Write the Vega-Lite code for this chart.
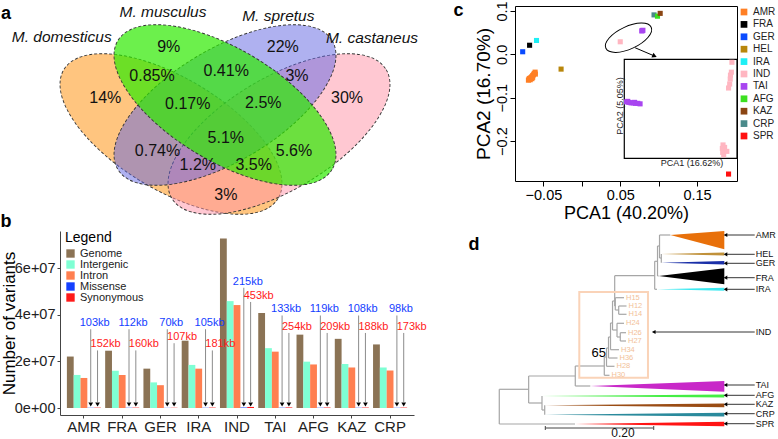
{
"$schema": "https://vega.github.io/schema/vega-lite/v6.json",
"padding": 0,
"background": "white",
"config": {"font": "Liberation Sans", "view": {"stroke": null}},
"datasets": {
"venn_sets": [
{"set": "M. domesticus", "vx": 1.69, "vy": 0.82},
{"set": "M. castaneus", "vx": 2.77, "vy": 0.82},
{"set": "M. spretus", "vx": 2.23, "vy": 1.11},
{"set": "M. musculus", "vx": 2.23, "vy": 1.11}
],
"venn_regions": [
{"label": "14%", "vx": 1.033, "vy": 1.183},
{"label": "9%", "vx": 1.667, "vy": 1.693},
{"label": "22%", "vx": 2.808, "vy": 1.693},
{"label": "30%", "vx": 3.45, "vy": 1.183},
{"label": "0.85%", "vx": 1.50, "vy": 1.40},
{"label": "0.41%", "vx": 2.242, "vy": 1.45},
{"label": "3%", "vx": 2.95, "vy": 1.40},
{"label": "0.17%", "vx": 1.858, "vy": 1.123},
{"label": "2.5%", "vx": 2.613, "vy": 1.133},
{"label": "5.1%", "vx": 2.238, "vy": 0.783},
{"label": "0.74%", "vx": 1.555, "vy": 0.65},
{"label": "5.6%", "vx": 2.92, "vy": 0.65},
{"label": "1.2%", "vx": 1.958, "vy": 0.51},
{"label": "3.5%", "vx": 2.517, "vy": 0.51},
{"label": "3%", "vx": 2.238, "vy": 0.21}
],
"venn_names": [
{"name": "M. domesticus", "vx": 0.597, "vy": 1.793},
{"name": "M. musculus", "vx": 1.61, "vy": 2.037},
{"name": "M. spretus", "vx": 2.763, "vy": 2.003},
{"name": "M. castaneus", "vx": 3.70, "vy": 1.783}
],
"letters_ab": [
{"letter": "a", "vx": 0.04, "vy": 2.02},
{"letter": "b", "vx": 0.04, "vy": -0.06}
],
"bars": [
{"pop": "AMR", "type": "Genome", "value": 22100000}, {"pop": "AMR", "type": "Intergenic", "value": 14200000}, {"pop": "AMR", "type": "Intron", "value": 12900000}, {"pop": "AMR", "type": "Missense", "value": 103000}, {"pop": "AMR", "type": "Synonymous", "value": 152000},
{"pop": "FRA", "type": "Genome", "value": 24600000}, {"pop": "FRA", "type": "Intergenic", "value": 16000000}, {"pop": "FRA", "type": "Intron", "value": 14200000}, {"pop": "FRA", "type": "Missense", "value": 112000}, {"pop": "FRA", "type": "Synonymous", "value": 160000},
{"pop": "GER", "type": "Genome", "value": 16900000}, {"pop": "GER", "type": "Intergenic", "value": 11000000}, {"pop": "GER", "type": "Intron", "value": 9800000}, {"pop": "GER", "type": "Missense", "value": 70000}, {"pop": "GER", "type": "Synonymous", "value": 107000},
{"pop": "IRA", "type": "Genome", "value": 28900000}, {"pop": "IRA", "type": "Intergenic", "value": 18500000}, {"pop": "IRA", "type": "Intron", "value": 16900000}, {"pop": "IRA", "type": "Missense", "value": 105000}, {"pop": "IRA", "type": "Synonymous", "value": 181000},
{"pop": "IND", "type": "Genome", "value": 72800000}, {"pop": "IND", "type": "Intergenic", "value": 45900000}, {"pop": "IND", "type": "Intron", "value": 44200000}, {"pop": "IND", "type": "Missense", "value": 215000}, {"pop": "IND", "type": "Synonymous", "value": 453000},
{"pop": "TAI", "type": "Genome", "value": 40800000}, {"pop": "TAI", "type": "Intergenic", "value": 25700000}, {"pop": "TAI", "type": "Intron", "value": 24200000}, {"pop": "TAI", "type": "Missense", "value": 133000}, {"pop": "TAI", "type": "Synonymous", "value": 254000},
{"pop": "AFG", "type": "Genome", "value": 31500000}, {"pop": "AFG", "type": "Intergenic", "value": 19900000}, {"pop": "AFG", "type": "Intron", "value": 18700000}, {"pop": "AFG", "type": "Missense", "value": 119000}, {"pop": "AFG", "type": "Synonymous", "value": 209000},
{"pop": "KAZ", "type": "Genome", "value": 29700000}, {"pop": "KAZ", "type": "Intergenic", "value": 18900000}, {"pop": "KAZ", "type": "Intron", "value": 17400000}, {"pop": "KAZ", "type": "Missense", "value": 108000}, {"pop": "KAZ", "type": "Synonymous", "value": 188000},
{"pop": "CRP", "type": "Genome", "value": 27300000}, {"pop": "CRP", "type": "Intergenic", "value": 17400000}, {"pop": "CRP", "type": "Intron", "value": 16100000}, {"pop": "CRP", "type": "Missense", "value": 98000}, {"pop": "CRP", "type": "Synonymous", "value": 173000}
],
"kb": [
{"pop": "AMR", "type": "Missense", "label": "103kb", "ly": 36400000},
{"pop": "FRA", "type": "Missense", "label": "112kb", "ly": 36400000},
{"pop": "GER", "type": "Missense", "label": "70kb", "ly": 36400000},
{"pop": "IRA", "type": "Missense", "label": "105kb", "ly": 36400000},
{"pop": "IND", "type": "Missense", "label": "215kb", "ly": 54200000},
{"pop": "TAI", "type": "Missense", "label": "133kb", "ly": 42300000},
{"pop": "AFG", "type": "Missense", "label": "119kb", "ly": 42300000},
{"pop": "KAZ", "type": "Missense", "label": "108kb", "ly": 42300000},
{"pop": "CRP", "type": "Missense", "label": "98kb", "ly": 42300000},
{"pop": "AMR", "type": "Synonymous", "label": "152kb", "ly": 27300000},
{"pop": "FRA", "type": "Synonymous", "label": "160kb", "ly": 27300000},
{"pop": "GER", "type": "Synonymous", "label": "107kb", "ly": 30400000},
{"pop": "IRA", "type": "Synonymous", "label": "181kb", "ly": 27300000},
{"pop": "IND", "type": "Synonymous", "label": "453kb", "ly": 48100000},
{"pop": "TAI", "type": "Synonymous", "label": "254kb", "ly": 34800000},
{"pop": "AFG", "type": "Synonymous", "label": "209kb", "ly": 34800000},
{"pop": "KAZ", "type": "Synonymous", "label": "188kb", "ly": 34800000},
{"pop": "CRP", "type": "Synonymous", "label": "173kb", "ly": 34800000}
],
"pca": [
{"pop": "AMR", "pc1": -0.0695, "pc2": -0.0595}, {"pop": "AMR", "pc1": -0.0688, "pc2": -0.0570}, {"pop": "AMR", "pc1": -0.0680, "pc2": -0.0555}, {"pop": "AMR", "pc1": -0.0672, "pc2": -0.0585}, {"pop": "AMR", "pc1": -0.0665, "pc2": -0.0540}, {"pop": "AMR", "pc1": -0.0655, "pc2": -0.0520}, {"pop": "AMR", "pc1": -0.0650, "pc2": -0.0560}, {"pop": "AMR", "pc1": -0.0640, "pc2": -0.0490}, {"pop": "AMR", "pc1": -0.0630, "pc2": -0.0470}, {"pop": "AMR", "pc1": -0.0620, "pc2": -0.0440}, {"pop": "AMR", "pc1": -0.0608, "pc2": -0.0410}, {"pop": "AMR", "pc1": -0.0605, "pc2": -0.0455}, {"pop": "AMR", "pc1": -0.0640, "pc2": -0.0530},
{"pop": "FRA", "pc1": -0.0680, "pc2": 0.0210},
{"pop": "GER", "pc1": -0.0770, "pc2": 0.0060},
{"pop": "HEL", "pc1": -0.0270, "pc2": -0.0340},
{"pop": "IRA", "pc1": -0.0590, "pc2": 0.0320},
{"pop": "IND", "pc1": 0.0500, "pc2": 0.0290},
{"pop": "TAI", "pc1": 0.0780, "pc2": 0.0540}, {"pop": "TAI", "pc1": 0.0795, "pc2": 0.0555}, {"pop": "TAI", "pc1": 0.0788, "pc2": 0.0548},
{"pop": "CRP", "pc1": 0.0940, "pc2": 0.0910},
{"pop": "AFG", "pc1": 0.0985, "pc2": 0.0880},
{"pop": "KAZ", "pc1": 0.1020, "pc2": 0.0945},
{"pop": "SPR", "pc1": 0.1910, "pc2": -0.2760}
],
"inset": [
{"pop": "TAI", "ix": 0.02, "iy": 0.570}, {"pop": "TAI", "ix": 0.03, "iy": 0.575}, {"pop": "TAI", "ix": 0.04, "iy": 0.565}, {"pop": "TAI", "ix": 0.06, "iy": 0.560}, {"pop": "TAI", "ix": 0.08, "iy": 0.560}, {"pop": "TAI", "ix": 0.09, "iy": 0.565}, {"pop": "TAI", "ix": 0.10, "iy": 0.555}, {"pop": "TAI", "ix": 0.12, "iy": 0.555}, {"pop": "TAI", "ix": 0.14, "iy": 0.550},
{"pop": "IND", "ix": 0.955, "iy": 0.970}, {"pop": "IND", "ix": 0.950, "iy": 0.870}, {"pop": "IND", "ix": 0.942, "iy": 0.840}, {"pop": "IND", "ix": 0.940, "iy": 0.800}, {"pop": "IND", "ix": 0.935, "iy": 0.750}, {"pop": "IND", "ix": 0.925, "iy": 0.710},
{"pop": "IND", "ix": 0.876, "iy": 0.135}, {"pop": "IND", "ix": 0.890, "iy": 0.110}, {"pop": "IND", "ix": 0.873, "iy": 0.060}, {"pop": "IND", "ix": 0.882, "iy": 0.035}, {"pop": "IND", "ix": 0.910, "iy": 0.070}, {"pop": "IND", "ix": 0.870, "iy": 0.100}
],
"branches": [
{"u": 0, "v": 15.83, "u2": 0, "v2": 19.3},
{"u": 0, "v": 19.3, "u2": 0.1397, "v2": 19.3},
{"u": 0, "v": 15.83, "u2": 0.0542, "v2": 15.83},
{"u": 0.0542, "v": 14.5, "u2": 0.0542, "v2": 17.2},
{"u": 0.0542, "v": 17.2, "u2": 0.0788, "v2": 17.2},
{"u": 0.0788, "v": 16.5, "u2": 0.0788, "v2": 17.9},
{"u": 0.0788, "v": 17.9, "u2": 0.0838, "v2": 17.9},
{"u": 0.0838, "v": 17.43, "u2": 0.0838, "v2": 18.37},
{"u": 0.0542, "v": 14.5, "u2": 0.1402, "v2": 14.5},
{"u": 0.1402, "v": 13.5, "u2": 0.1402, "v2": 15.5},
{"u": 0.1402, "v": 15.5, "u2": 0.1679, "v2": 15.5},
{"u": 0.1402, "v": 13.5, "u2": 0.1937, "v2": 13.5},
{"u": 0.1937, "v": 12.6, "u2": 0.1937, "v2": 14.43},
{"u": 0.1937, "v": 14.43, "u2": 0.2033, "v2": 14.43},
{"u": 0.1937, "v": 12.6, "u2": 0.1978, "v2": 12.6},
{"u": 0.1978, "v": 11.7, "u2": 0.1978, "v2": 13.53},
{"u": 0.1978, "v": 13.53, "u2": 0.2125, "v2": 13.53},
{"u": 0.1978, "v": 11.7, "u2": 0.2015, "v2": 11.7},
{"u": 0.2015, "v": 10.6, "u2": 0.2015, "v2": 12.7},
{"u": 0.2015, "v": 12.7, "u2": 0.2181, "v2": 12.7},
{"u": 0.2015, "v": 10.6, "u2": 0.2052, "v2": 10.6},
{"u": 0.2052, "v": 9.2, "u2": 0.2052, "v2": 11.87},
{"u": 0.2052, "v": 11.87, "u2": 0.2208, "v2": 11.87},
{"u": 0.2052, "v": 9.2, "u2": 0.2089, "v2": 9.2},
{"u": 0.2089, "v": 7.0, "u2": 0.2089, "v2": 9.9},
{"u": 0.2089, "v": 9.9, "u2": 0.2172, "v2": 9.9},
{"u": 0.2172, "v": 9.23, "u2": 0.2172, "v2": 10.6},
{"u": 0.2172, "v": 9.23, "u2": 0.2301, "v2": 9.23},
{"u": 0.2172, "v": 10.6, "u2": 0.2232, "v2": 10.6},
{"u": 0.2232, "v": 10.17, "u2": 0.2232, "v2": 11.0},
{"u": 0.2232, "v": 10.17, "u2": 0.2338, "v2": 10.17},
{"u": 0.2232, "v": 11.0, "u2": 0.2338, "v2": 11.0},
{"u": 0.2089, "v": 7.0, "u2": 0.2129, "v2": 7.0},
{"u": 0.2129, "v": 4.47, "u2": 0.2129, "v2": 7.5},
{"u": 0.2129, "v": 7.5, "u2": 0.2140, "v2": 7.5},
{"u": 0.2140, "v": 6.67, "u2": 0.2140, "v2": 7.9},
{"u": 0.2140, "v": 6.67, "u2": 0.2301, "v2": 6.67},
{"u": 0.2140, "v": 7.9, "u2": 0.2203, "v2": 7.9},
{"u": 0.2203, "v": 7.5, "u2": 0.2203, "v2": 8.33},
{"u": 0.2203, "v": 7.5, "u2": 0.2347, "v2": 7.5},
{"u": 0.2203, "v": 8.33, "u2": 0.2347, "v2": 8.33},
{"u": 0.2129, "v": 4.47, "u2": 0.2867, "v2": 4.47},
{"u": 0.2867, "v": 3.03, "u2": 0.2867, "v2": 5.83},
{"u": 0.2867, "v": 5.83, "u2": 0.2910, "v2": 5.83},
{"u": 0.2867, "v": 3.03, "u2": 0.2919, "v2": 3.03},
{"u": 0.2919, "v": 1.5, "u2": 0.2919, "v2": 4.5},
{"u": 0.2919, "v": 4.5, "u2": 0.2941, "v2": 4.5},
{"u": 0.2919, "v": 1.5, "u2": 0.2956, "v2": 1.5},
{"u": 0.2956, "v": 0.4, "u2": 0.2956, "v2": 2.7},
{"u": 0.2956, "v": 0.4, "u2": 0.3155, "v2": 0.4},
{"u": 0.2956, "v": 2.7, "u2": 0.2989, "v2": 2.7},
{"u": 0.2989, "v": 2.3, "u2": 0.2989, "v2": 3.17}
],
"wedges": [
{"clade": "AMR", "u": 0.3155, "lo": 0.4, "hi": 0.4}, {"clade": "AMR", "u": 0.4151, "lo": 0.0, "hi": 1.83},
{"clade": "HEL", "u": 0.2989, "lo": 2.3, "hi": 2.3}, {"clade": "HEL", "u": 0.4151, "lo": 2.15, "hi": 2.45},
{"clade": "GER", "u": 0.2989, "lo": 3.17, "hi": 3.17}, {"clade": "GER", "u": 0.4151, "lo": 3.0, "hi": 3.35},
{"clade": "FRA", "u": 0.2941, "lo": 4.5, "hi": 4.5}, {"clade": "FRA", "u": 0.4151, "lo": 3.73, "hi": 5.33},
{"clade": "IRA", "u": 0.2910, "lo": 5.83, "hi": 5.83}, {"clade": "IRA", "u": 0.4151, "lo": 5.68, "hi": 5.98},
{"clade": "TAI", "u": 0.1679, "lo": 15.5, "hi": 15.5}, {"clade": "TAI", "u": 0.4151, "lo": 15.0, "hi": 16.07},
{"clade": "AFG", "u": 0.0788, "lo": 16.5, "hi": 16.5}, {"clade": "AFG", "u": 0.4151, "lo": 16.35, "hi": 16.65},
{"clade": "KAZ", "u": 0.0838, "lo": 17.43, "hi": 17.43}, {"clade": "KAZ", "u": 0.4151, "lo": 17.25, "hi": 17.62},
{"clade": "CRP", "u": 0.0838, "lo": 18.37, "hi": 18.37}, {"clade": "CRP", "u": 0.4151, "lo": 18.18, "hi": 18.55},
{"clade": "SPR", "u": 0.1397, "lo": 19.3, "hi": 19.3}, {"clade": "SPR", "u": 0.4151, "lo": 19.08, "hi": 19.52}
],
"tips": [
{"tip": "H15", "u": 0.2301, "v": 6.67}, {"tip": "H12", "u": 0.2347, "v": 7.5}, {"tip": "H14", "u": 0.2347, "v": 8.33},
{"tip": "H24", "u": 0.2301, "v": 9.23}, {"tip": "H26", "u": 0.2338, "v": 10.17}, {"tip": "H27", "u": 0.2338, "v": 11.0},
{"tip": "H34", "u": 0.2208, "v": 11.87}, {"tip": "H36", "u": 0.2181, "v": 12.7}, {"tip": "H28", "u": 0.2125, "v": 13.53},
{"tip": "H30", "u": 0.2033, "v": 14.43}
],
"clade_labels": [
{"clade": "AMR", "v": 0.4, "utip": 0.4173, "ulab": 0.4712}, {"clade": "HEL", "v": 2.33, "utip": 0.4173, "ulab": 0.4712}, {"clade": "GER", "v": 3.23, "utip": 0.4173, "ulab": 0.4712},
{"clade": "FRA", "v": 4.67, "utip": 0.4173, "ulab": 0.4712}, {"clade": "IRA", "v": 5.83, "utip": 0.4173, "ulab": 0.4712}, {"clade": "IND", "v": 10.1, "utip": 0.2849, "ulab": 0.4712},
{"clade": "TAI", "v": 15.4, "utip": 0.4173, "ulab": 0.4712}, {"clade": "AFG", "v": 16.43, "utip": 0.4173, "ulab": 0.4712}, {"clade": "KAZ", "v": 17.33, "utip": 0.4173, "ulab": 0.4712},
{"clade": "CRP", "v": 18.27, "utip": 0.4173, "ulab": 0.4712}, {"clade": "SPR", "v": 19.27, "utip": 0.4173, "ulab": 0.4712}
],
"scalebar": [
{"u": 0.0849, "v": 19.7, "u2": 0.2849, "v2": 19.7},
{"u": 0.0849, "v": 19.5, "u2": 0.0849, "v2": 19.9},
{"u": 0.2849, "v": 19.5, "u2": 0.2849, "v2": 19.9}
]
},
"concat": [
{
"width": 354, "height": 205,
"encoding": {
"x": {"field": "vx", "type": "quantitative", "scale": {"domain": [0.58, 4.12], "nice": false, "zero": false}, "axis": null},
"y": {"field": "vy", "type": "quantitative", "scale": {"domain": [0.05, 2.10], "nice": false, "zero": false}, "axis": null}
},
"layer": [
{"data": {"name": "venn_sets"}, "transform": [{"filter": "datum.set == 'M. domesticus'"}], "mark": {"type": "point", "shape": "M 1 0 C 1 0.2474 0.5523 0.448 0 0.448 C -0.5523 0.448 -1 0.2474 -1 0 C -1 -0.2474 -0.5523 -0.448 0 -0.448 C 0.5523 -0.448 1 -0.2474 1 0 Z", "size": 62500, "angle": 31, "filled": true, "fill": "#FF8C00", "fillOpacity": 0.5, "stroke": "#333333", "strokeWidth": 0.9, "strokeDash": [3, 2], "strokeOpacity": 1, "opacity": 1}},
{"data": {"name": "venn_sets"}, "transform": [{"filter": "datum.set == 'M. castaneus'"}], "mark": {"type": "point", "shape": "M 1 0 C 1 0.2474 0.5523 0.448 0 0.448 C -0.5523 0.448 -1 0.2474 -1 0 C -1 -0.2474 -0.5523 -0.448 0 -0.448 C 0.5523 -0.448 1 -0.2474 1 0 Z", "size": 62500, "angle": -31, "filled": true, "fill": "#FF91A5", "fillOpacity": 0.5, "stroke": "#333333", "strokeWidth": 0.9, "strokeDash": [3, 2], "strokeOpacity": 1, "opacity": 1}},
{"data": {"name": "venn_sets"}, "transform": [{"filter": "datum.set == 'M. spretus'"}], "mark": {"type": "point", "shape": "M 1 0 C 1 0.2474 0.5523 0.448 0 0.448 C -0.5523 0.448 -1 0.2474 -1 0 C -1 -0.2474 -0.5523 -0.448 0 -0.448 C 0.5523 -0.448 1 -0.2474 1 0 Z", "size": 62500, "angle": -31, "filled": true, "fill": "#5F64E1", "fillOpacity": 0.5, "stroke": "#333333", "strokeWidth": 0.9, "strokeDash": [3, 2], "strokeOpacity": 1, "opacity": 1}},
{"data": {"name": "venn_sets"}, "transform": [{"filter": "datum.set == 'M. musculus'"}], "mark": {"type": "point", "shape": "M 1 0 C 1 0.2474 0.5523 0.448 0 0.448 C -0.5523 0.448 -1 0.2474 -1 0 C -1 -0.2474 -0.5523 -0.448 0 -0.448 C 0.5523 -0.448 1 -0.2474 1 0 Z", "size": 62500, "angle": 31, "filled": true, "fill": "#2DEA00", "fillOpacity": 0.7, "stroke": "#333333", "strokeWidth": 0.9, "strokeDash": [3, 2], "strokeOpacity": 1, "opacity": 1}},
{"data": {"name": "venn_regions"}, "mark": {"type": "text", "fontSize": 16, "color": "#111111"}, "encoding": {"text": {"field": "label"}}},
{"data": {"name": "venn_names"}, "mark": {"type": "text", "fontSize": 15.5, "fontStyle": "italic", "color": "#111111"}, "encoding": {"text": {"field": "name"}}},
{"data": {"name": "letters_ab"}, "mark": {"type": "text", "fontSize": 18, "fontWeight": "bold", "color": "black"}, "encoding": {"text": {"field": "letter"}}}
]
},
{
"width": 222, "height": 175,
"view": {"stroke": "black", "strokeWidth": 1},
"layer": [
{
"encoding": {
"x": {"field": "pc1", "type": "quantitative", "scale": {"domain": [-0.087, 0.202], "nice": false, "zero": false}, "axis": {"values": [-0.05, 0, 0.05, 0.1, 0.15], "labelExpr": "abs(round(datum.value * 100)) % 10 == 5 ? format(datum.value, '.2f') : ''", "title": "PCA1 (40.20%)", "titleFontSize": 18, "titleFontWeight": "normal", "titleColor": "black", "titlePadding": 3, "labelFontSize": 14.5, "labelColor": "black", "tickSize": 5, "tickColor": "black", "domain": false, "grid": false, "labelPadding": 2}},
"y": {"field": "pc2", "type": "quantitative", "scale": {"domain": [-0.292, 0.1115], "nice": false, "zero": false}, "axis": {"values": [-0.2, -0.1, 0, 0.1], "format": ".1f", "labelAngle": 270, "labelAlign": "center", "labelBaseline": "bottom", "title": "PCA2 (16.70%)", "titleFontSize": 19, "titleFontWeight": "normal", "titleColor": "black", "titlePadding": 1, "labelFontSize": 14.5, "labelColor": "black", "tickSize": 5, "tickColor": "black", "domain": false, "grid": false, "labelPadding": 1}}
},
"layer": [
{"data": {"name": "pca"}, "mark": {"type": "square", "filled": true, "size": 26, "opacity": 1},
"encoding": {"color": {"field": "pop", "type": "nominal", "scale": {"domain": ["AMR", "FRA", "GER", "HEL", "IRA", "IND", "TAI", "AFG", "KAZ", "CRP", "SPR"], "range": ["#FF7F24", "#000000", "#0A4BFF", "#B8860B", "#1EEFF5", "#FFB6C1", "#A845F0", "#3CE020", "#8B4513", "#4A8A8A", "#FF1010"]}, "legend": {"title": null, "orient": "none", "legendX": 224, "legendY": 1, "labelFontSize": 10, "labelColor": "#222222", "symbolType": "square", "symbolSize": 45, "symbolStrokeWidth": 0, "rowPadding": 2.4, "padding": 0, "labelOffset": 4}}}},
{"data": {"values": [{"pc1": 0.0608, "pc2": 0.0383}]}, "mark": {"type": "point", "shape": "M 1 0 C 1 0.2474 0.5523 0.448 0 0.448 C -0.5523 0.448 -1 0.2474 -1 0 C -1 -0.2474 -0.5523 -0.448 0 -0.448 C 0.5523 -0.448 1 -0.2474 1 0 Z", "size": 2500, "angle": -25, "filled": false, "color": "black", "strokeWidth": 1, "opacity": 1}},
{"data": {"values": [{"pc1": 0.0694, "pc2": 0.0152, "pc1e": 0.0947, "pc2e": -0.0039}]}, "mark": {"type": "rule", "color": "black", "strokeWidth": 1},
"encoding": {"x2": {"field": "pc1e"}, "y2": {"field": "pc2e"}}},
{"data": {"values": [{"pc1": 0.0947, "pc2": -0.0039}]}, "mark": {"type": "point", "shape": "triangle-right", "angle": 23, "filled": true, "color": "black", "size": 28, "opacity": 1}},
{"data": {"values": [{"letter": "c", "pc1": -0.1604, "pc2": 0.1}]}, "mark": {"type": "text", "fontSize": 18, "fontWeight": "bold", "color": "black"}, "encoding": {"text": {"field": "letter"}}}
]
},
{
"encoding": {
"x": {"field": "ix", "type": "quantitative", "scale": {"domain": [-0.9697, 1], "nice": false, "zero": false}, "axis": null},
"y": {"field": "iy", "type": "quantitative", "scale": {"domain": [-0.2293, 1.5384], "nice": false, "zero": false}, "axis": null}
},
"layer": [
{"data": {"values": [{"ix": 0, "iy": 0, "ix2": 1, "iy2": 1}]}, "mark": {"type": "rect", "fill": "white", "stroke": "black", "strokeWidth": 1.2},
"encoding": {"x2": {"field": "ix2"}, "y2": {"field": "iy2"}}},
{"data": {"name": "inset"}, "mark": {"type": "square", "filled": true, "size": 26, "opacity": 1},
"encoding": {"color": {"field": "pop", "type": "nominal"}}},
{"data": {"values": [{"t": "PCA1 (16.62%)", "ix": 0.6, "iy": -0.047}]}, "mark": {"type": "text", "fontSize": 9, "color": "#222222"}, "encoding": {"text": {"field": "t"}}},
{"data": {"values": [{"t": "PCA2 (5.05%)", "ix": -0.038, "iy": 0.528}]}, "mark": {"type": "text", "fontSize": 9, "angle": 270, "color": "#222222"}, "encoding": {"text": {"field": "t"}}}
]
}
],
"resolve": {"scale": {"x": "independent", "y": "independent"}, "axis": {"x": "independent", "y": "independent"}}
},
{
"width": 354, "height": 184,
"encoding": {
"x": {"field": "pop", "type": "nominal", "sort": ["AMR", "FRA", "GER", "IRA", "IND", "TAI", "AFG", "KAZ", "CRP"], "scale": {"paddingInner": 0.11, "paddingOuter": 0.18}, "axis": {"title": null, "labelAngle": 0, "labelFontSize": 15, "labelColor": "#222222", "tickSize": 3, "tickColor": "#444444", "domainColor": "#444444", "labelPadding": 1}},
"xOffset": {"field": "type", "type": "nominal", "scale": {"domain": ["Genome", "Intergenic", "Intron", "Missense", "Synonymous"], "paddingInner": 0, "paddingOuter": 0}}
},
"layer": [
{"data": {"name": "bars"}, "mark": {"type": "bar"},
"encoding": {
"y": {"field": "value", "type": "quantitative", "scale": {"domain": [-3000000, 76000000], "nice": false, "zero": false}, "axis": {"values": [0, 20000000, 40000000, 60000000], "labelExpr": "replace(format(datum.value, '.0e'), '+', '+0')", "title": "Number of variants", "titleFontSize": 17, "titleFontWeight": "normal", "titleColor": "black", "titlePadding": -4, "labelFontSize": 14.5, "labelColor": "#222222", "tickSize": 3, "tickColor": "#444444", "domainColor": "#444444", "grid": false, "labelPadding": 2}},
"color": {"field": "type", "type": "nominal", "scale": {"domain": ["Genome", "Intergenic", "Intron", "Missense", "Synonymous"], "range": ["#8B7355", "#7FFFD4", "#FF7F50", "#1440FF", "#FF1A1A"]}, "legend": {"title": "Legend", "orient": "none", "legendX": 5, "legendY": 0, "titleFontSize": 14, "titleFontWeight": "normal", "titleColor": "black", "titlePadding": 3, "labelFontSize": 11, "labelColor": "#222222", "symbolType": "square", "symbolSize": 70, "symbolStrokeWidth": 0, "rowPadding": -1, "padding": 0}}
}},
{"data": {"name": "kb"}, "mark": {"type": "rule", "color": "#8C8C8C", "strokeWidth": 1, "yOffset": 6},
"encoding": {"y": {"field": "ly", "type": "quantitative"}, "y2": {"datum": 2600000}}},
{"data": {"name": "kb"}, "mark": {"type": "point", "shape": "triangle-down", "filled": true, "color": "black", "size": 22, "opacity": 1},
"encoding": {"y": {"datum": 1500000, "type": "quantitative"}}},
{"data": {"name": "kb"}, "transform": [{"filter": "datum.type == 'Missense'"}], "mark": {"type": "text", "fontSize": 11, "dx": 4},
"encoding": {"y": {"field": "ly", "type": "quantitative"}, "text": {"field": "label"}, "color": {"field": "type", "type": "nominal"}}},
{"data": {"name": "kb"}, "transform": [{"filter": "datum.type == 'Synonymous'"}], "mark": {"type": "text", "fontSize": 11, "dx": 8},
"encoding": {"y": {"field": "ly", "type": "quantitative"}, "text": {"field": "label"}, "color": {"field": "type", "type": "nominal"}}}
]
},
{
"width": 264, "height": 207,
"encoding": {
"x": {"field": "u", "type": "quantitative", "scale": {"domain": [0.029, 0.516], "nice": false, "zero": false}, "axis": null},
"y": {"field": "v", "type": "quantitative", "scale": {"domain": [0, 20.7], "reverse": true, "nice": false, "zero": false}, "axis": null}
},
"layer": [
{"data": {"name": "branches"}, "mark": {"type": "rule", "color": "#A6A6A6", "strokeWidth": 1.2},
"encoding": {"x2": {"field": "u2"}, "y2": {"field": "v2"}}},
{"data": {"name": "wedges"}, "mark": {"type": "area", "opacity": 1},
"encoding": {"y": {"field": "lo", "type": "quantitative"}, "y2": {"field": "hi"}, "color": {"field": "clade", "type": "nominal", "scale": {"domain": ["AMR", "HEL", "GER", "FRA", "IRA", "TAI", "AFG", "KAZ", "CRP", "SPR"], "range": ["#E8700A", "#C0913A", "#1A2FA8", "#000000", "#3CE8F0", "#C828C8", "#44EE44", "#9A4C14", "#2A8A9C", "#FF1414"]}, "legend": null}}},
{"data": {"values": [{"u": 0.1476, "v": 6.1, "u2": 0.2743, "v2": 14.67}]}, "mark": {"type": "rect", "fill": null, "stroke": "#FAD3B8", "strokeWidth": 2},
"encoding": {"x2": {"field": "u2"}, "y2": {"field": "v2"}}},
{"data": {"name": "tips"}, "mark": {"type": "text", "fontSize": 7.5, "align": "left", "dx": 2, "color": "#F2BF98"}, "encoding": {"text": {"field": "tip"}}},
{"data": {"values": [{"t": "65", "u": 0.1834, "v": 12.17}]}, "mark": {"type": "text", "fontSize": 13, "color": "black"}, "encoding": {"text": {"field": "t"}}},
{"data": {"name": "clade_labels"}, "mark": {"type": "rule", "color": "black", "strokeWidth": 0.8},
"encoding": {"x": {"field": "ulab", "type": "quantitative"}, "x2": {"field": "utip"}}},
{"data": {"name": "clade_labels"}, "mark": {"type": "point", "shape": "triangle-left", "filled": true, "color": "black", "size": 18, "opacity": 1},
"encoding": {"x": {"field": "utip", "type": "quantitative"}}},
{"data": {"name": "clade_labels"}, "mark": {"type": "text", "fontSize": 9, "align": "left", "dx": 1, "color": "#111111"},
"encoding": {"x": {"field": "ulab", "type": "quantitative"}, "text": {"field": "clade"}}},
{"data": {"name": "scalebar"}, "mark": {"type": "rule", "color": "#444444", "strokeWidth": 1},
"encoding": {"x2": {"field": "u2"}, "y2": {"field": "v2"}}},
{"data": {"values": [{"t": "0.20", "u": 0.228, "v": 20.15}]}, "mark": {"type": "text", "fontSize": 12, "color": "#111111"}, "encoding": {"text": {"field": "t"}}},
{"data": {"values": [{"t": "d", "u": -0.0467, "v": 1.4}]}, "mark": {"type": "text", "fontSize": 18, "fontWeight": "bold", "color": "black"}, "encoding": {"text": {"field": "t"}}}
]
}
],
"columns": 2,
"spacing": {"row": 20, "column": 101},
"bounds": "flush",
"resolve": {"scale": {"color": "independent"}, "legend": {"color": "independent"}}
}
